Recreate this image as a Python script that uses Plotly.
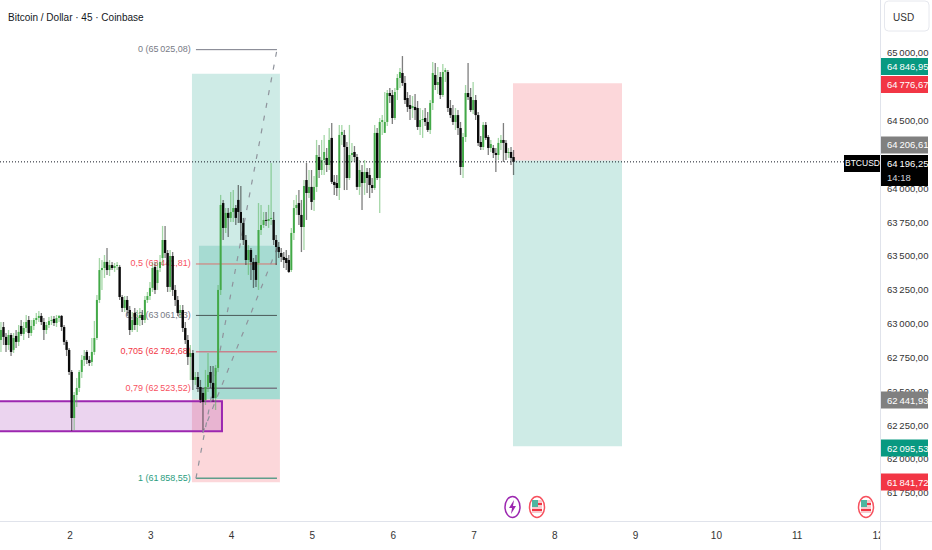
import pandas as pd
import plotly.graph_objects as go

FONT = "Liberation Sans, Arial"

# --- candles (45 min BTCUSD) ---
opens = [62880, 62976, 62903, 62843, 62917, 62807, 62910, 62866, 62984, 62925, 62969, 63028,
         62932, 62984, 63028, 63043, 63058, 63013, 62954, 62991, 63021, 63036, 63006, 63043,
         63058, 62976, 62866, 62807, 62644, 62304, 62474, 62526, 62644, 62733, 62792, 62733,
         62718, 62792, 62895, 63176, 63397, 63412, 63457, 63397, 63434, 63412, 63427, 63420,
         63198, 63117, 63176, 63102, 62954, 63080, 62991, 63043, 63065, 63028, 63176, 63205,
         63265, 63420, 63301, 63412, 63486, 63619, 63523, 63272, 63501, 63250, 63176, 63080,
         63102, 62969, 62880, 62755, 62784, 62585, 62607, 62533, 62489, 62437, 62533, 62644,
         62563, 62452, 62674, 63250, 63892, 63708, 63819, 63782, 63826, 63855, 63915, 63826,
         63745, 63619, 63471, 63545, 63457, 63457, 63449, 63693, 63730, 63767, 63760, 63774,
         63767, 63619, 63567, 63523, 63494, 63486, 63471, 63397, 63671, 63855, 63892, 63804,
         63715, 64062, 63966, 64011, 63915, 64011, 64232, 64136, 64210, 64225, 64173, 64373,
         64048, 64040, 64003, 64395, 64395, 64306, 64077, 64247, 64269, 64232, 64011, 64121,
         64040, 64121, 64099, 64025, 64003, 64410, 64077, 64491, 64410, 64491, 64705, 64690,
         64520, 64727, 64816, 64853, 64779, 64668, 64616, 64594, 64602, 64594, 64454, 64505,
         64520, 64491, 64432, 64631, 64838, 64764, 64823, 64690, 64860, 64860, 64594, 64542,
         64491, 64542, 64446, 64158, 64380, 64705, 64675, 64579, 64653, 64542, 64343, 64306,
         64469, 64380, 64299, 64299, 64262, 64247, 64336, 64358, 64336, 64262, 64269, 64232]
highs = [63013, 63013, 62932, 62954, 62932, 62932, 62954, 62991, 63028, 63013, 63065, 63058,
         63028, 63043, 63080, 63095, 63080, 63043, 63013, 63050, 63058, 63058, 63065, 63065,
         63065, 62991, 62880, 62821, 62659, 62496, 62600, 62659, 62770, 62807, 62807, 62762,
         62895, 63021, 63213, 63486, 63471, 63508, 63560, 63471, 63457, 63449, 63457, 63434,
         63213, 63205, 63205, 63131, 63087, 63117, 63102, 63117, 63102, 63205, 63235, 63309,
         63457, 63457, 63457, 63508, 63723, 63723, 63545, 63545, 63530, 63287, 63205, 63139,
         63139, 63013, 62917, 62843, 62807, 62644, 62644, 62585, 62526, 62659, 62784, 62688,
         62688, 62696, 63287, 63952, 63915, 63855, 63855, 63974, 63988, 63878, 64025, 64018,
         63782, 63656, 63582, 63560, 63486, 63508, 63892, 63878, 63826, 63826, 63878, 64188,
         63826, 63656, 63604, 63560, 63530, 63545, 63508, 63708, 63915, 63952, 63988, 63915,
         64062, 64188, 64136, 64136, 64092, 64358, 64321, 64358, 64395, 64299, 64446, 64483,
         64099, 64099, 64469, 64469, 64432, 64343, 64469, 64336, 64313, 64254, 64210, 64173,
         64210, 64151, 64151, 64077, 64469, 64446, 64520, 64542, 64712, 64727, 64742, 64727,
         64742, 64845, 64890, 64978, 64831, 64712, 64690, 64683, 64698, 64646, 64594, 64579,
         64594, 64565, 64653, 64934, 64927, 64897, 64860, 64919, 64890, 64875, 64653, 64616,
         64594, 64579, 64491, 64410, 64764, 64927, 64742, 64786, 64690, 64565, 64387, 64491,
         64491, 64395, 64358, 64321, 64299, 64373, 64395, 64483, 64358, 64299, 64306, 64284]
lows = [62792, 62843, 62792, 62807, 62762, 62784, 62821, 62836, 62910, 62880, 62940, 62895,
        62910, 62954, 62999, 63013, 62991, 62880, 62925, 62969, 62991, 62984, 62976, 63013,
        62947, 62843, 62762, 62622, 62208, 62215, 62385, 62496, 62600, 62688, 62703, 62688,
        62688, 62770, 62880, 63154, 63250, 63338, 63361, 63353, 63397, 63383, 63397, 63176,
        63087, 63087, 63058, 62917, 62940, 62954, 62940, 62984, 62991, 63006, 63154, 63176,
        63235, 63220, 63250, 63383, 63427, 63486, 63235, 63235, 63205, 63131, 63058, 63043,
        62940, 62851, 62696, 62585, 62511, 62548, 62496, 62415, 62215, 62400, 62496, 62526,
        62422, 62363, 62644, 63213, 63619, 63671, 63641, 63752, 63752, 63730, 63745, 63619,
        63582, 63434, 63361, 63324, 63265, 63272, 63250, 63656, 63708, 63723, 63708, 63730,
        63582, 63434, 63486, 63457, 63412, 63397, 63375, 63383, 63619, 63804, 63730, 63530,
        63545, 63767, 63929, 63841, 63833, 63974, 64077, 64099, 64099, 64121, 64136, 64033,
        63952, 63944, 63915, 64321, 63988, 63988, 64062, 64195, 64195, 63988, 63952, 63841,
        63952, 63966, 63929, 63966, 63988, 64062, 63819, 64395, 64446, 64461, 64631, 64476,
        64505, 64653, 64742, 64757, 64624, 64565, 64505, 64520, 64505, 64432, 64395, 64373,
        64461, 64417, 64402, 64579, 64727, 64698, 64661, 64675, 64786, 64565, 64520, 64469,
        64432, 64395, 64099, 64077, 64343, 64653, 64565, 64550, 64505, 64313, 64284, 64284,
        64358, 64247, 64269, 64225, 64121, 64210, 64284, 64195, 64210, 64225, 64173, 64099]
closes = [62954, 62903, 62843, 62917, 62792, 62895, 62866, 62940, 62925, 62969, 63013, 62932,
          62984, 63028, 63043, 63058, 63013, 62954, 62991, 63021, 63028, 63006, 63043, 63058,
          62976, 62866, 62807, 62644, 62304, 62474, 62526, 62644, 62733, 62762, 62733, 62710,
          62792, 62895, 63176, 63397, 63412, 63457, 63397, 63434, 63412, 63427, 63434, 63198,
          63117, 63176, 63102, 62954, 63028, 62991, 63043, 63065, 63028, 63176, 63205, 63265,
          63412, 63250, 63397, 63457, 63619, 63523, 63272, 63501, 63250, 63176, 63080, 63102,
          62969, 62880, 62755, 62784, 62585, 62607, 62533, 62437, 62422, 62533, 62622, 62563,
          62452, 62674, 63250, 63878, 63708, 63819, 63782, 63826, 63855, 63782, 63826, 63745,
          63619, 63471, 63545, 63457, 63397, 63324, 63693, 63730, 63767, 63760, 63774, 63782,
          63619, 63567, 63530, 63494, 63471, 63449, 63383, 63671, 63855, 63878, 63804, 63715,
          64018, 63966, 64011, 63900, 64011, 64247, 64136, 64210, 64269, 64173, 64358, 64048,
          64025, 64003, 64395, 64417, 64306, 64077, 64247, 64262, 64232, 64011, 64136, 64040,
          64121, 64077, 64025, 64003, 64410, 64077, 64491, 64505, 64491, 64705, 64683, 64520,
          64712, 64816, 64860, 64779, 64653, 64602, 64587, 64609, 64579, 64454, 64505, 64513,
          64491, 64432, 64631, 64853, 64764, 64786, 64690, 64860, 64875, 64594, 64542, 64491,
          64542, 64446, 64158, 64380, 64705, 64675, 64579, 64653, 64542, 64336, 64306, 64469,
          64373, 64299, 64328, 64262, 64247, 64336, 64358, 64336, 64262, 64269, 64225, 64196.25]
times = pd.date_range("2024-10-01 03:30", periods=len(closes), freq="45min")

# axes
x_start = "2024-10-01 03:13"
x_end = "2024-10-12 00:36"
y_min = 61543
y_max = 65392
day_ticks = ["2024-10-02", "2024-10-03", "2024-10-04", "2024-10-05", "2024-10-06", "2024-10-07",
             "2024-10-08", "2024-10-09", "2024-10-10", "2024-10-11", "2024-10-12"]
day_labels = ["2", "3", "4", "5", "6", "7", "8", "9", "10", "11", "12"]
price_ticks = [65000, 64500, 64000, 63750, 63500, 63250, 63000, 62750, 62500, 62250, 62000, 61750]
price_labels = ["65\u202f000,00", "64\u202f500,00", "64\u202f000,00", "63\u202f750,00", "63\u202f500,00",
                "63\u202f250,00", "63\u202f000,00", "62\u202f750,00", "62\u202f500,00", "62\u202f250,00",
                "62\u202f000,00", "61\u202f750,00"]

# fibonacci levels
fib_prices = [65025.08, 63441.81, 63061.83, 62792.68, 62523.52, 61858.55]
fib_labels = ["0 (65\u202f025,08)", "0,5 (63\u202f441,81)", "0,62 (63\u202f061,83)", "0,705 (62\u202f792,68)",
              "0,79 (62\u202f523,52)", "1 (61\u202f858,55)"]
fib_text_colors = ["#787b86", "#f7525f", "#787b86", "#f23645", "#f7525f", "#2a9d80"]
fib_line_colors = ["#787b86", "#d9736f", "#4a5a58", "#d9566a", "#787b86", "#5f9e8c"]
fib_line_widths = [1, 1, 1, 1, 1.5, 1.5]
fib_left = "2024-10-03 13:25"
fib_right = "2024-10-04 13:29"
fib_label_x = "2024-10-03 11:55"

# position boxes
long_left = "2024-10-03 12:14"
long_right = "2024-10-04 14:22"
long_top = 64846.95
long_entry = 62441.93
long_stop = 61830
inner_left = "2024-10-03 14:19"
inner_top = 63576
short_left = "2024-10-07 11:35"
short_right = "2024-10-08 19:58"
short_top = 64776.67
short_entry = 64206.61
short_bottom = 62095.53
zone_left = "2024-09-30"
zone_right = "2024-10-03 21:09"
zone_top = 62428
zone_bottom = 62206
last_price = 64196.25

# dashed paths of the pattern
dash_a_x = [fib_left, fib_right]
dash_a_y = [61858.55, 65025.08]
dash_b_x = ["2024-10-03 15:25", "2024-10-04 13:40"]
dash_b_y = [62193, 63567]

# price scale badges
badge_labels = ["64\u202f846,95", "64\u202f776,67", "64\u202f206,61", "62\u202f441,93", "62\u202f095,53", "61\u202f841,72"]
badge_colors = ["#089981", "#f23645", "#808080", "#808080", "#089981", "#f23645"]
badge_centres = [66.5, 84.5, 145, 400, 448, 482]

PLOT_W = 880
PLOT_H = 521


def px(v):
    return v / PLOT_W


def py(v):
    return 1 - v / PLOT_H


def paper_rect(x0, y0, x1, y1, fill, line="rgba(0,0,0,0)", width=0):
    return dict(type="rect", xref="paper", yref="paper", x0=px(x0), x1=px(x1), y0=py(y0), y1=py(y1),
                fillcolor=fill, line=dict(color=line, width=width), layer="above")


def paper_round_rect(x0, y0, x1, y1, r, fill, line, width=1):
    path = (f"M {px(x0 + r)} {py(y0)} L {px(x1 - r)} {py(y0)} Q {px(x1)} {py(y0)} {px(x1)} {py(y0 + r)} "
            f"L {px(x1)} {py(y1 - r)} Q {px(x1)} {py(y1)} {px(x1 - r)} {py(y1)} "
            f"L {px(x0 + r)} {py(y1)} Q {px(x0)} {py(y1)} {px(x0)} {py(y1 - r)} "
            f"L {px(x0)} {py(y0 + r)} Q {px(x0)} {py(y0)} {px(x0 + r)} {py(y0)} Z")
    return dict(type="path", xref="paper", yref="paper", path=path, fillcolor=fill,
                line=dict(color=line, width=width), layer="above")


def paper_line(x0, y0, x1, y1, color):
    return dict(type="line", xref="paper", yref="paper", x0=px(x0), x1=px(x1), y0=py(y0), y1=py(y1),
                line=dict(color=color, width=1), layer="above")


def paper_oval(cx, cy, rx, ry, fill, line, width=1.2):
    return dict(type="circle", xref="paper", yref="paper", x0=px(cx - rx), x1=px(cx + rx), y0=py(cy + ry),
                y1=py(cy - ry), fillcolor=fill, line=dict(color=line, width=width), layer="above")


def flag_icon(cx, cy):
    return [
        paper_oval(cx, cy, 7.5, 10.5, "white", "#f7525f", 1.5),
        paper_rect(cx - 5, cy - 7, cx + 5, cy + 6, "#f8c9cd"),
        paper_rect(cx - 5, cy - 7, cx + 1, cy, "#4db6a0"),
        paper_rect(cx + 1, cy - 4, cx + 5, cy - 2, "#f23645"),
        paper_rect(cx - 5, cy + 2, cx + 5, cy + 4, "#f23645"),
    ]


def wick_segments(mask):
    xs, ys = [], []
    for i in range(len(closes)):
        if mask(i):
            xs += [times[i], times[i], None]
            ys += [lows[i], highs[i], None]
    return xs, ys


def body_segments(mask):
    xs, ys = [], []
    for i in range(len(closes)):
        if mask(i):
            xs += [times[i], times[i], None]
            ys += [opens[i], closes[i], None]
    return xs, ys


def is_up(i):
    return closes[i] >= opens[i]


def is_down(i):
    return closes[i] < opens[i]


fig = go.Figure()

# fib levels and their labels first, the candles cover them
for price, color, lw in zip(fib_prices, fib_line_colors, fib_line_widths):
    fig.add_trace(go.Scatter(x=[fib_left, fib_right], y=[price, price], mode="lines",
                             line=dict(color=color, width=lw), hoverinfo="skip"))
fig.add_trace(go.Scatter(x=[fib_label_x] * len(fib_prices), y=fib_prices, mode="text", text=fib_labels,
                         textposition="middle left", cliponaxis=False,
                         textfont=dict(family=FONT, size=9, color=fib_text_colors), hoverinfo="skip"))
for xs, ys in [(dash_a_x, dash_a_y), (dash_b_x, dash_b_y)]:
    fig.add_trace(go.Scatter(x=xs, y=ys, mode="lines", hoverinfo="skip",
                             line=dict(color="#8f939c", width=1.2, dash="5px 8px")))

# wicks are lighter than the bodies
xs, ys = wick_segments(is_up)
fig.add_trace(go.Scatter(x=xs, y=ys, mode="lines", hoverinfo="skip",
                         line=dict(color="rgba(76,175,80,0.5)", width=1.3, simplify=False)))
xs, ys = wick_segments(is_down)
fig.add_trace(go.Scatter(x=xs, y=ys, mode="lines", hoverinfo="skip",
                         line=dict(color="rgba(40,40,40,0.6)", width=1.3, simplify=False)))
xs, ys = body_segments(is_up)
fig.add_trace(go.Scatter(x=xs, y=ys, mode="lines", hoverinfo="skip",
                         line=dict(color="#43a948", width=2, simplify=False)))
xs, ys = body_segments(is_down)
fig.add_trace(go.Scatter(x=xs, y=ys, mode="lines", hoverinfo="skip",
                         line=dict(color="#0a0a0a", width=2.4, simplify=False)))


def box(x0, x1, y0, y1, fill, line="rgba(0,0,0,0)", width=0):
    return dict(type="rect", xref="x", yref="y", x0=x0, x1=x1, y0=y0, y1=y1, fillcolor=fill,
                line=dict(color=line, width=width), layer="below")


teal = "rgba(8,153,129,0.2)"
pink = "rgba(242,54,69,0.2)"
shapes = [
    box(long_left, long_right, long_entry, long_top, teal),
    box(long_left, long_right, long_stop, long_entry, pink),
    box(inner_left, long_right, long_entry, inner_top, teal),
    box(short_left, short_right, short_entry, short_top, pink),
    box(short_left, short_right, short_bottom, short_entry, teal),
    box(zone_left, zone_right, zone_bottom, zone_top, "rgba(156,39,176,0.2)", "#9c27b0", 2),
    dict(type="line", xref="paper", yref="y", x0=0, x1=1, y0=last_price, y1=last_price, layer="above",
         line=dict(color="#131722", width=1, dash="1px 2px")),
]

# covers the end of the "12" where the price scale starts, the pane lines run on to the edges
shapes.append(paper_rect(880, 522, 932, 550, "white"))
shapes.append(paper_line(880, 521.5, 932, 521.5, "#e0e3eb"))
shapes.append(paper_line(880.5, 0, 880.5, 550, "#e0e3eb"))

annotations = [
    dict(text="Bitcoin / Dollar \u00b7 45 \u00b7 Coinbase", xref="paper", yref="paper", x=px(6), y=py(17),
         xanchor="left", yanchor="middle", showarrow=False, font=dict(family=FONT, size=10, color="#131722")),
    dict(text="USD", xref="paper", yref="paper", x=px(891), y=py(18), xanchor="left", yanchor="middle",
         showarrow=False, font=dict(family=FONT, size=10, color="#333333")),
]
shapes.append(paper_round_rect(884.5, 1, 929, 31, 4, "white", "#e6e8ee"))

for label, color, centre in zip(badge_labels, badge_colors, badge_centres):
    shapes.append(paper_rect(881, centre - 8.5, 928, centre + 8.5, color))
    annotations.append(dict(text=label, xref="paper", yref="paper", x=px(885), y=py(centre), xanchor="left",
                            yanchor="middle", showarrow=False, font=dict(family=FONT, size=9.5, color="white")))

# current price label
shapes.append(paper_rect(881, 155, 928, 186, "#000000"))
shapes.append(paper_rect(844, 155, 880, 172, "#000000"))
annotations.append(dict(text="BTCUSD", xref="paper", yref="paper", x=px(862), y=py(163.5), xanchor="center",
                        yanchor="middle", showarrow=False, font=dict(family=FONT, size=8.5, color="white")))
annotations.append(dict(text="64\u202f196,25", xref="paper", yref="paper", x=px(885), y=py(163), xanchor="left",
                        yanchor="middle", showarrow=False, font=dict(family=FONT, size=9.5, color="white")))
annotations.append(dict(text="14:18", xref="paper", yref="paper", x=px(885), y=py(177), xanchor="left",
                        yanchor="middle", showarrow=False, font=dict(family=FONT, size=9.5, color="#d1d4dc")))

# event markers
shapes.append(paper_oval(512.5, 507, 7.5, 10.5, "white", "#9c27b0", 1.5))
shapes.append(dict(type="path", xref="paper", yref="paper", layer="above", fillcolor="#9c27b0",
                   line=dict(width=0),
                   path=f"M {px(514)} {py(500)} L {px(509)} {py(508)} L {px(512)} {py(508)} L {px(511)} {py(514)} "
                        f"L {px(516)} {py(506)} L {px(513)} {py(506)} Z"))
shapes += flag_icon(537, 507)
shapes += flag_icon(866, 507)

fig.update_layout(
    width=932,
    height=550,
    margin=dict(l=0, r=52, t=0, b=29),
    paper_bgcolor="white",
    plot_bgcolor="white",
    showlegend=False,
    shapes=shapes,
    annotations=annotations,
    xaxis=dict(
        type="date", range=[x_start, x_end], tickmode="array", tickvals=day_ticks, ticktext=day_labels,
        showgrid=False, zeroline=False, showline=True, linecolor="#e0e3eb", linewidth=1, automargin=False,
        ticks="outside", ticklen=5, tickcolor="white",
        tickfont=dict(family=FONT, size=10, color="#333333"),
    ),
    yaxis=dict(
        side="right", range=[y_min, y_max], tickmode="array", tickvals=price_ticks, ticktext=price_labels,
        showgrid=False, zeroline=False, showline=True, linecolor="#e0e3eb", linewidth=1, automargin=False,
        ticks="outside", ticklen=4, tickcolor="white",
        tickfont=dict(family=FONT, size=9.5, color="#333333"),
    ),
)

fig.write_html("out.html", config=dict(displayModeBar=False),
               post_script="document.body.style.margin='0';document.body.style.overflow='hidden';")
